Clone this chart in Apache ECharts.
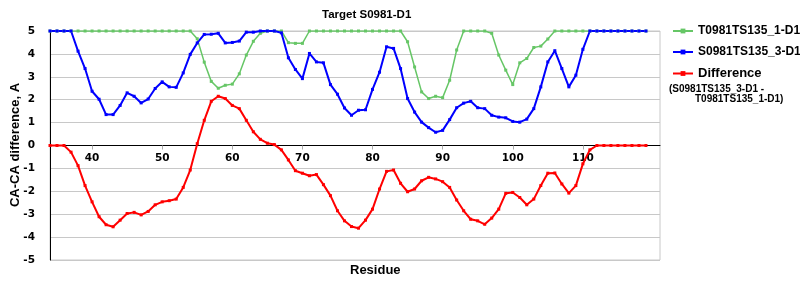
<!DOCTYPE html>
<html>
<head>
<meta charset="utf-8">
<script src="https://cdn.jsdelivr.net/npm/echarts@6/dist/echarts.min.js"></script>
<style>html,body{margin:0;padding:0;background:#fff}#c{width:800px;height:300px}</style>
</head>
<body>
<div id="c"></div>
<script>
const residues = [];
for (let r = 34; r <= 119; r++) residues.push(r);

const greenVals = [
  5,5,5,5,5,5,5,5,5,5,5,5,5,5,5,5,5,5,5,5,5,
  4.66,3.64,2.8,2.5,2.63,2.68,3.13,3.95,4.55,4.9,
  5,5,5,
  4.49,4.46,4.46,
  5,5,5,5,5,5,5,5,5,5,5,5,5,5,
  4.53,3.43,2.34,2.05,2.15,2.09,2.85,4.17,
  5,5,5,5,
  4.9,3.95,3.29,2.66,3.61,3.8,4.28,4.34,4.65,
  5,5,5,5,5,5,5,5,5,5,5,5,5,5
];
const blueVals = [
  5,5,5,5,
  4.12,3.36,2.37,2.02,1.35,1.35,1.75,2.3,2.15,1.86,2.03,2.49,2.78,2.56,2.54,3.17,3.98,
  4.48,4.85,4.86,4.9,4.48,4.5,4.56,4.95,4.95,5,5,5,4.92,
  3.83,3.32,2.92,4.02,3.65,3.61,2.66,2.24,1.64,1.32,1.54,1.56,2.45,3.2,4.31,4.24,3.36,
  2.05,1.46,1.02,0.78,0.58,0.66,1.13,1.65,1.85,1.93,1.65,1.61,1.32,1.24,1.21,1.05,1.02,
  1.15,1.61,2.56,3.65,4.14,3.36,2.56,3.07,4.2,
  5,5,5,5,5,5,5,5,5
];
const diffVals = [
  0,0,0,
  -0.29,-0.88,-1.75,-2.46,-3.11,-3.46,-3.55,-3.26,-2.97,-2.92,-3.03,-2.88,-2.59,-2.46,-2.41,-2.34,-1.83,-1.07,
  0.08,1.1,1.93,2.15,2.05,1.75,1.61,1.1,0.6,0.27,0.1,0.04,
  -0.19,-0.63,-1.1,-1.21,-1.32,-1.27,-1.71,-2.19,-2.85,-3.29,-3.54,-3.61,-3.26,-2.78,-1.9,-1.13,-1.07,
  -1.65,-2.02,-1.9,-1.54,-1.39,-1.46,-1.58,-1.83,-2.38,-2.85,-3.22,-3.29,-3.44,-3.17,-2.78,-2.09,-2.05,
  -2.27,-2.59,-2.34,-1.75,-1.21,-1.2,-1.68,-2.08,-1.75,-0.8,-0.19,
  0,0,0,0,0,0,0,0
];
const xTicks = [40,50,60,70,80,90,100,110];
const seriesNames = ['T0981TS135_1-D1','S0981TS135_3-D1','Difference'];
const titleText = 'Target S0981-D1';
const yName = 'CA-CA difference, A';
const xName = 'Residue';
const diffNote1 = '(S0981TS135_3-D1 -';
const diffNote2 = 'T0981TS135_1-D1)';

const pair = vals => residues.map((r, i) => [r, vals[i]]);
const font = '"Liberation Sans", Arial, sans-serif';
const labFont = '"DejaVu Sans", Verdana, sans-serif';

function mk(name, vals, color, width) {
  return {
    name, type: 'line', data: pair(vals),
    symbol: 'rect', symbolSize: 3, showSymbol: true,
    lineStyle: { color, width }, itemStyle: { color },
    animation: false
  };
}

const chart = echarts.init(document.getElementById('c'), null, { renderer: 'canvas' });
chart.setOption({
  animation: false,
  backgroundColor: '#fff',
  title: {
    text: titleText, left: 317, top: 4,
    textStyle: { fontFamily: font, fontWeight: 'bold', fontSize: 11.5, color: '#000' }
  },
  grid: { left: 50, right: 140, top: 31, bottom: 40, show: true, borderColor: '#c8c8c8', borderWidth: 1,
    backgroundColor: 'transparent', containLabel: false, outerBoundsMode: 'none' },
  legend: {
    orient: 'vertical', left: 667, top: 20, itemWidth: 20, itemHeight: 6, itemGap: 9,
    data: seriesNames,
    textStyle: { fontFamily: font, fontWeight: 'bold', fontSize: 12, color: '#000',
      rich: { big: { fontFamily: font, fontWeight: 'bold', fontSize: 13, color: '#000' } } },
    formatter: n => n === 'Difference' ? '{big|' + n + '}' : n
  },
  xAxis: {
    type: 'value', min: 34, max: 121, offset: -114.5,
    axisLine: { onZero: false, lineStyle: { color: '#000', width: 1 } },
    axisTick: { show: true, customValues: xTicks, length: 4, lineStyle: { color: '#aaa' } },
    axisLabel: { customValues: xTicks, fontFamily: labFont, fontWeight: 'bold', fontSize: 10.5, color: '#000', margin: 7 },
    splitLine: { show: false }
  },
  yAxis: {
    type: 'value', min: -5, max: 5, interval: 1,
    axisLine: { show: true, lineStyle: { color: '#000', width: 1 } },
    axisTick: { show: false },
    axisLabel: { fontFamily: labFont, fontWeight: 'bold', fontSize: 10.5, color: '#000', margin: 15 },
    splitLine: { show: true, lineStyle: { color: '#c8c8c8', width: 1 } }
  },
  graphic: [
    { type: 'text', x: 15, y: 145, rotation: Math.PI / 2,
      style: { text: yName, font: 'bold 13px ' + font, fill: '#000', align: 'center', verticalAlign: 'middle' } },
    { type: 'text', left: 350, top: 264, style: { text: xName, font: 'bold 13px ' + font, fill: '#000' } },
    { type: 'text', left: 669, top: 84, style: { text: diffNote1, font: 'bold 10px ' + font, fill: '#000' } },
    { type: 'text', left: 695, top: 94, style: { text: diffNote2, font: 'bold 10px ' + font, fill: '#000' } }
  ],
  series: [
    mk(seriesNames[0], greenVals, '#66c666', 1.5),
    mk(seriesNames[1], blueVals, '#0000ff', 2),
    mk(seriesNames[2], diffVals, '#ff0000', 2)
  ]
});
</script>
</body>
</html>
